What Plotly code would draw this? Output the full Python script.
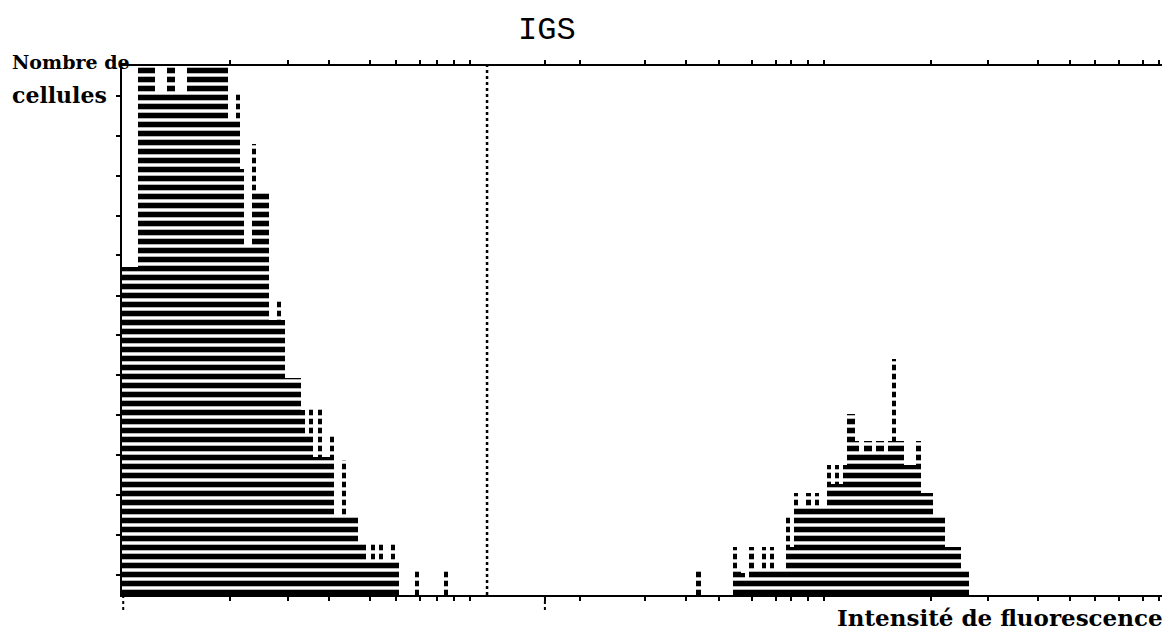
import plotly.graph_objects as go

# ---- data (channel index -> cell count, % of full scale) ----
left_channels = [0, 1, 2, 3, 4, 5, 6, 7, 8, 9, 10, 11, 12, 13, 14, 15,
                 16, 17, 18, 19, 20, 21, 22, 23, 24, 25, 26, 27, 28, 29, 30, 31,
                 32, 33, 34, 35, 36, 37, 38, 39, 40, 41, 42, 43, 44, 45, 46, 47,
                 48, 49, 50, 51, 52, 53, 54, 55, 56, 57, 58, 59, 60, 61, 62, 63,
                 64, 65, 66, 67, 72, 79]
left_counts = [62, 62, 62, 62, 100, 100, 100, 100, 94.7, 94.7, 94.7, 100, 100, 94.7, 94.7, 94.7,
               100, 100, 100, 100, 100, 100, 100, 100, 100, 100, 90, 90, 94.7, 80.6, 66, 66,
               85.3, 76, 76, 76, 52, 52, 55.7, 52, 41, 41, 41, 41, 35, 30, 35.3, 26,
               35.3, 26, 26, 30.2, 15, 15, 25.5, 14.7, 14.7, 14.7, 9.8, 9.8, 6.6, 9.8, 6.6, 9.8,
               6.6, 6.6, 9.8, 6.6, 4.7, 4.7]

right_channels = [141, 150, 151, 152, 153, 154, 155, 156, 157, 158, 159, 160, 161, 162, 163, 164,
                  165, 166, 167, 168, 169, 170, 171, 172, 173, 174, 175, 176, 177, 178, 179, 180,
                  181, 182, 183, 184, 185, 186, 187, 188, 189, 190, 191, 192, 193, 194, 195, 196,
                  197, 198, 199, 200, 201, 202, 203, 204, 205, 206, 207]
right_counts = [4.7, 9, 4.7, 4.2, 3, 9, 4.7, 4.7, 9, 4.7, 9, 4.7, 4.7, 4.7, 14.7, 9,
                19.2, 16.6, 16.6, 19.2, 16.6, 19.2, 16.6, 16.6, 24.5, 21, 24.5, 21, 24.5, 34.3, 34.3, 29.2,
                27, 29.2, 29.2, 27, 29.2, 29.2, 27, 29.2, 44.7, 29.2, 29.2, 24.5, 24.5, 24.5, 29.2, 19.2,
                19.2, 19.2, 14.7, 14.7, 14.7, 9, 9, 9, 9, 4.7, 4.7]

x_ticks = [26.5, 40.7, 50.8, 60.9, 67.3, 73.1, 77.3, 81.5, 85.4, 103.8, 112.4, 128.4, 138.4,
           146.5, 154.6, 160.5, 164.2, 168.4, 172.3, 198.6, 212.6, 224.8, 232.7, 238.8,
           244.7, 250.6, 254.5]
y_ticks = [3.8, 11.3, 18.9, 26.4, 34.0, 41.5, 49.1, 56.6, 64.2, 71.7, 79.3, 86.8, 94.4]
gate_channel = 89.6

title_text = "IGS"
y_label = ["Nombre de", "cellules"]
x_label = "Intensité de fluorescence"

pattern = dict(shape="-", size=9, solidity=0.62, fillmode="replace")

fig = go.Figure()
for chans, counts in [(left_channels, left_counts), (right_channels, right_counts)]:
    fig.add_trace(go.Bar(
        x=[c + 0.5 for c in chans], y=counts, width=1.0,
        marker=dict(color="black", line=dict(width=0), pattern=pattern),
        showlegend=False,
    ))

fig.add_shape(type="line", xref="x", yref="y", x0=gate_channel, x1=gate_channel, y0=0, y1=100,
              line=dict(color="black", width=2.5, dash="dot"))
# longer marks below the axis
fig.add_shape(type="line", xref="x", yref="paper", x0=0.3, x1=0.3, y0=0, y1=-0.03,
              line=dict(color="black", width=2, dash="dot"))
fig.add_shape(type="line", xref="x", yref="paper", x0=103.8, x1=103.8, y0=0, y1=-0.03,
              line=dict(color="black", width=2, dash="dot"))

# page body has an 8px margin: figure is sized/offset to keep the plot where the reference has it
fig.update_layout(
    width=1162, height=624,
    margin=dict(l=114, r=5, t=58, b=37),
    paper_bgcolor="white", plot_bgcolor="white",
    bargap=0,
    xaxis=dict(range=[0, 256], showgrid=False, zeroline=False, showline=True,
               linecolor="black", linewidth=2, mirror="ticks", ticks="outside",
               tickvals=x_ticks, ticklen=4, tickwidth=2, tickcolor="black",
               showticklabels=False),
    yaxis=dict(range=[0, 100], showgrid=False, zeroline=False, showline=True,
               linecolor="black", linewidth=1.5, ticks="outside", tickvals=y_ticks,
               ticklen=4, tickwidth=2, tickcolor="black", showticklabels=False),
    annotations=[
        dict(text=title_text, x=0.4075, y=1.068, xref="paper", yref="paper",
             xanchor="center", yanchor="middle", showarrow=False,
             font=dict(family="Liberation Mono", size=32, color="black")),
        dict(text=y_label[0], x=-0.1074, y=1.0076, xref="paper", yref="paper",
             xanchor="left", yanchor="middle", showarrow=False,
             font=dict(family="DejaVu Serif", size=19, color="black", weight="bold")),
        dict(text=y_label[1], x=-0.1074, y=0.945, xref="paper", yref="paper",
             xanchor="left", yanchor="middle", showarrow=False,
             font=dict(family="DejaVu Serif", size=22, color="black", weight="bold")),
        dict(text=x_label, x=1.0, y=-0.043, xref="paper", yref="paper",
             xanchor="right", yanchor="middle", showarrow=False,
             font=dict(family="DejaVu Serif", size=23, color="black", weight="bold")),
    ],
)

fig.write_html("out.html")
